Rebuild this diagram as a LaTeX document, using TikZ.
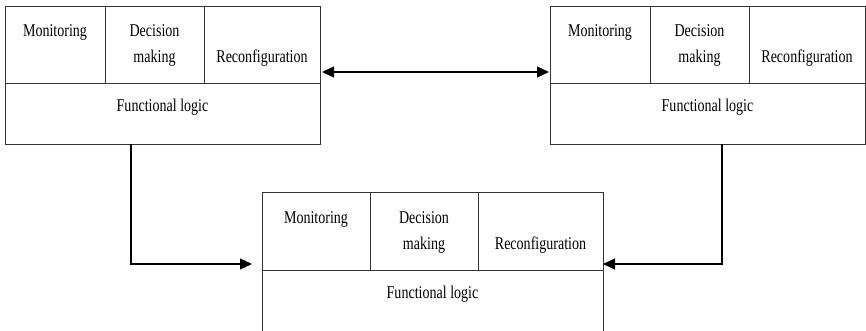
\documentclass[tikz,border=0pt]{standalone}
\usepackage{fontspec}
\setmainfont{Liberation Serif}[FakeStretch=0.78]
\usetikzlibrary{positioning,arrows.meta}

\tikzset{
  cell/.style={draw=black!80, line width=0.9pt, rectangle, inner sep=0pt, outer sep=0pt, align=center, minimum height=77pt},
  logic/.style={draw=black!80, line width=0.9pt, rectangle, inner sep=0pt, outer sep=0pt, minimum height=61pt, text depth=16pt},
  link/.style={line width=1.2pt, -{Triangle[length=12pt,width=11pt]}},
}

\begin{document}
\begin{tikzpicture}[x=1pt,y=-1pt,font=\fontsize{18}{26}\selectfont]
\useasboundingbox (0,0) rectangle (866,331);

% left unit
\node[cell, minimum width=100pt, anchor=north west] (lMon) at (5,6) {Monitoring\strut\\\strut};
\node[cell, minimum width=99pt, right=0pt of lMon] (lDec) {Decision\strut\\making\strut};
\node[cell, minimum width=116pt, right=0pt of lDec] (lRec) {\strut\\Reconfiguration\strut};
\node[logic, minimum width=315pt, below=0pt of lMon.south west, anchor=north west] (lFun) {Functional logic};

% right unit
\node[cell, minimum width=100pt, anchor=north west] (rMon) at (550,6) {Monitoring\strut\\\strut};
\node[cell, minimum width=99pt, right=0pt of rMon] (rDec) {Decision\strut\\making\strut};
\node[cell, minimum width=116pt, right=0pt of rDec] (rRec) {\strut\\Reconfiguration\strut};
\node[logic, minimum width=315pt, below=0pt of rMon.south west, anchor=north west] (rFun) {Functional logic};

% lower unit
\node[cell, minimum width=108pt, minimum height=78pt, anchor=north west] (bMon) at (262,192) {Monitoring\strut\\\strut};
\node[cell, minimum width=108pt, minimum height=78pt, right=0pt of bMon] (bDec) {Decision\strut\\making\strut};
\node[cell, minimum width=125pt, minimum height=78pt, right=0pt of bDec] (bRec) {\strut\\Reconfiguration\strut};
\node[logic, minimum width=341pt, minimum height=64pt, text depth=19pt, below=0pt of bMon.south west, anchor=north west] (bFun) {Functional logic};

% links
\draw[link, {Triangle[length=12pt,width=11pt]}-{Triangle[length=12pt,width=11pt]}] ([xshift=2pt,yshift=11pt]lRec.south east) -- ([xshift=-1pt,yshift=11pt]rMon.south west);
\draw[link] ([xshift=-31.5pt]lFun.south) |- ([xshift=-10pt,yshift=6pt]bMon.south west);
\draw[link] ([xshift=14.5pt]rFun.south) |- ([yshift=6pt]bRec.south east);
\end{tikzpicture}
\end{document}
